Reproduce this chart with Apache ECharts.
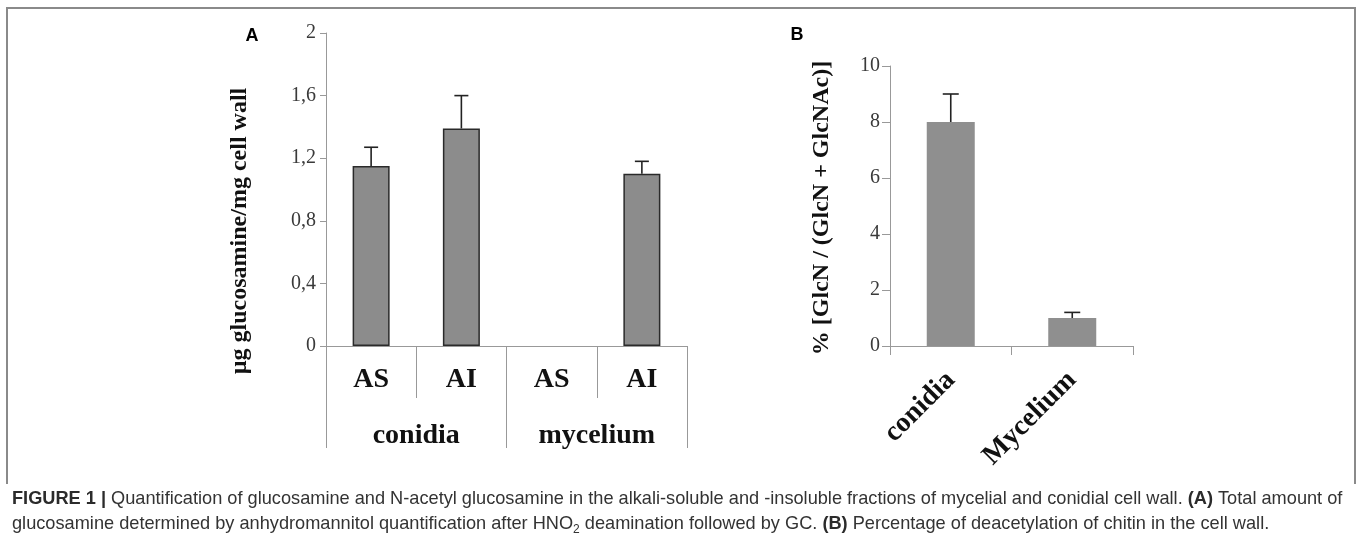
<!DOCTYPE html>
<html>
<head>
<meta charset="utf-8">
<script src="https://cdn.jsdelivr.net/npm/echarts@6/dist/echarts.min.js"></script>
<style>html,body{margin:0;padding:0;background:#fff;}#main{width:1357px;height:552px;}</style>
</head>
<body>
<div id="main"></div>
<script>
// ---- data ----
const catsA = ['AS', 'AI', 'AS', 'AI'];
const groupsA = ['conidia', 'mycelium'];
const valuesA = [1.15, 1.39, null, 1.10];
const errorsA = [0.12, 0.21, null, 0.08];
const ticksA = ['0', '0,4', '0,8', '1,2', '1,6', '2'];
const titleA = 'µg glucosamine/mg cell wall';

const catsB = ['conidia', 'Mycelium'];
const valuesB = [8.0, 1.0];
const errorsB = [1.0, 0.2];
const ticksB = ['0', '2', '4', '6', '8', '10'];
const titleB = '% [GlcN / (GlcN + GlcNAc)]';

const SERIF = '"Liberation Serif", "Times New Roman", serif';
const SANS = '"Liberation Sans", Arial, sans-serif';
const axisGray = '#999999';

function errRender(cap) {
  return function (params, api) {
    const x = api.value(0), v = api.value(1), e = api.value(2);
    const p0 = api.coord([x, v]);
    const p1 = api.coord([x, v + e]);
    const st = { stroke: '#222', lineWidth: 1.6 };
    return {
      type: 'group',
      children: [
        { type: 'line', shape: { x1: p0[0], y1: p0[1], x2: p1[0], y2: p1[1] }, style: st },
        { type: 'line', shape: { x1: p1[0] - cap / 2, y1: p1[1], x2: p1[0] + cap / 2, y2: p1[1] }, style: st }
      ]
    };
  };
}

const catLabel = { fontFamily: SERIF, fontWeight: 'bold', fontSize: 28, color: '#111' };
const tickLabel = { fontFamily: SERIF, fontSize: 20, color: '#3a3a3a' };

const chart = echarts.init(document.getElementById('main'), null, { renderer: 'canvas' });
chart.setOption({
  animation: false,
  grid: [
    { left: 326, top: 33, width: 361, height: 313 },
    { left: 890, top: 66, width: 243, height: 280 }
  ],
  xAxis: [
    {
      gridIndex: 0, type: 'category', data: catsA, position: 'bottom',
      axisLine: { lineStyle: { color: axisGray, width: 1 } },
      axisTick: { show: true, interval: 0, length: 52, lineStyle: { color: axisGray } },
      axisLabel: Object.assign({ interval: 0, margin: 20 }, catLabel)
    },
    {
      gridIndex: 0, type: 'category', data: groupsA, position: 'bottom', offset: 0,
      axisLine: { show: false },
      axisTick: { show: true, interval: 0, length: 102, lineStyle: { color: axisGray } },
      axisLabel: Object.assign({ interval: 0, margin: 76 }, catLabel)
    },
    {
      gridIndex: 1, type: 'category', data: catsB, position: 'bottom',
      axisLine: { lineStyle: { color: axisGray, width: 1 } },
      axisTick: { show: true, interval: 0, length: 9, lineStyle: { color: axisGray } },
      axisLabel: Object.assign({ interval: 0, margin: 30, rotate: 45 }, catLabel)
    }
  ],
  yAxis: [
    {
      gridIndex: 0, type: 'value', min: 0, max: 2, interval: 0.4,
      axisLine: { show: true, lineStyle: { color: axisGray } },
      axisTick: { show: true, length: 6, lineStyle: { color: axisGray } },
      splitLine: { show: false },
      axisLabel: Object.assign({ margin: 10, formatter: (v, i) => ticksA[i] }, tickLabel)
    },
    {
      gridIndex: 1, type: 'value', min: 0, max: 10, interval: 2,
      axisLine: { show: true, lineStyle: { color: axisGray } },
      axisTick: { show: true, length: 8, lineStyle: { color: axisGray } },
      splitLine: { show: false },
      axisLabel: Object.assign({ margin: 10, formatter: (v, i) => ticksB[i] }, tickLabel)
    }
  ],
  series: [
    {
      type: 'bar', xAxisIndex: 0, yAxisIndex: 0, barWidth: 37,
      data: valuesA.map(v => (v == null ? '-' : v)),
      itemStyle: { color: '#8c8c8c', borderColor: '#2a2a2a', borderWidth: 1.5 },
      silent: true
    },
    {
      type: 'custom', xAxisIndex: 0, yAxisIndex: 0, renderItem: errRender(14),
      encode: { x: 0, y: 1 },
      data: valuesA.map((v, i) => (v == null ? null : [i, v, errorsA[i]])).filter(d => d),
      silent: true, z: 5
    },
    {
      type: 'bar', xAxisIndex: 2, yAxisIndex: 1, barWidth: 48,
      data: valuesB,
      itemStyle: { color: '#8f8f8f' },
      silent: true
    },
    {
      type: 'custom', xAxisIndex: 2, yAxisIndex: 1, renderItem: errRender(16),
      encode: { x: 0, y: 1 },
      data: valuesB.map((v, i) => [i, v, errorsB[i]]),
      silent: true, z: 5
    }
  ],
  graphic: [
    {
      type: 'polyline', silent: true,
      shape: { points: [[7, 484], [7, 8], [1355, 8], [1355, 484]] },
      style: { stroke: '#8a8a8a', lineWidth: 2, fill: null }
    },
    {
      type: 'text', x: 240, y: 231, rotation: Math.PI / 2,
      style: { text: titleA, font: 'bold 24px ' + SERIF, fill: '#111', align: 'center', verticalAlign: 'middle' }
    },
    {
      type: 'text', x: 822, y: 208, rotation: Math.PI / 2,
      style: { text: titleB, font: 'bold 24px ' + SERIF, fill: '#111', align: 'center', verticalAlign: 'middle' }
    },
    {
      type: 'text', x: 252, y: 36,
      style: { text: 'A', font: 'bold 18px ' + SANS, fill: '#000', align: 'center', verticalAlign: 'middle' }
    },
    {
      type: 'text', x: 797, y: 35,
      style: { text: 'B', font: 'bold 18px ' + SANS, fill: '#000', align: 'center', verticalAlign: 'middle' }
    },
    {
      type: 'text', x: 12, y: 499,
      style: {
        text: '{b|FIGURE 1 |}{n| Quantification of glucosamine and N-acetyl glucosamine in the alkali-soluble and -insoluble fractions of mycelial and conidial cell wall. }{b|(A)}{n| Total amount of}',
        verticalAlign: 'middle', align: 'left',
        rich: {
          b: { fontFamily: SANS, fontSize: 18.2, fontWeight: 'bold', fill: '#2b2b2b', lineHeight: 24 },
          n: { fontFamily: SANS, fontSize: 18.2, fill: '#333', lineHeight: 24 }
        }
      }
    },
    {
      type: 'text', x: 12, y: 524,
      style: {
        text: '{n|glucosamine determined by anhydromannitol quantification after HNO}{s|2}{n| deamination followed by GC. }{b|(B)}{n| Percentage of deacetylation of chitin in the cell wall.}',
        verticalAlign: 'middle', align: 'left',
        rich: {
          b: { fontFamily: SANS, fontSize: 18.2, fontWeight: 'bold', fill: '#2b2b2b', lineHeight: 24 },
          n: { fontFamily: SANS, fontSize: 18.2, fill: '#333', lineHeight: 24 },
          s: { fontFamily: SANS, fontSize: 12, fill: '#333', lineHeight: 24, verticalAlign: 'bottom' }
        }
      }
    }
  ]
});
</script>
</body>
</html>
